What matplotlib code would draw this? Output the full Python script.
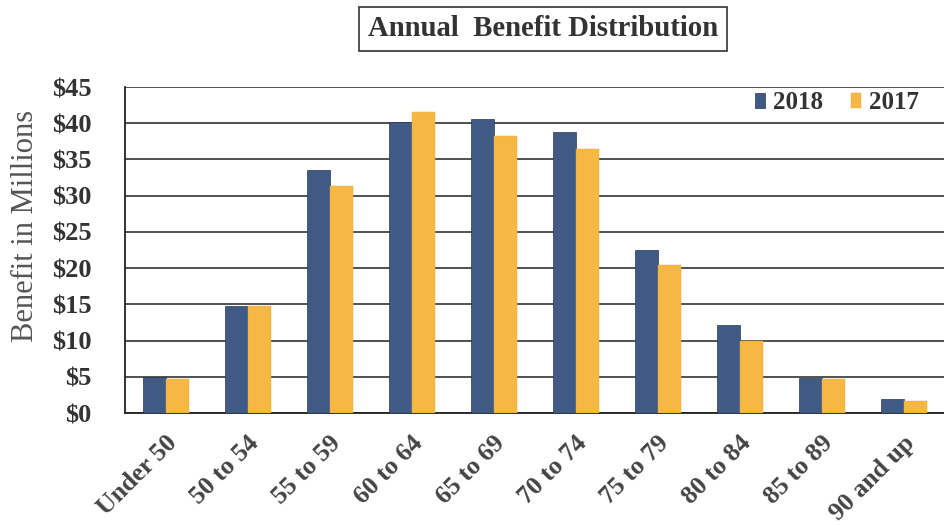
import matplotlib
matplotlib.use("Agg")
import matplotlib.pyplot as plt
import matplotlib.transforms as mtransforms
import numpy as np

categories = ["Under 50", "50 to 54", "55 to 59", "60 to 64", "65 to 69",
              "70 to 74", "75 to 79", "80 to 84", "85 to 89", "90 and up"]
values_2018 = [5.0, 14.8, 33.6, 40.2, 40.6, 38.8, 22.5, 12.2, 4.8, 2.0]
values_2017 = [4.7, 14.8, 31.3, 41.5, 38.3, 36.5, 20.4, 10.0, 4.7, 1.6]
yticks = [0, 5, 10, 15, 20, 25, 30, 35, 40, 45]
ytick_labels = ["$0", "$5", "$10", "$15", "$20", "$25", "$30", "$35", "$40", "$45"]

plt.rcParams['font.family'] = ['Liberation Serif', 'DejaVu Serif']

fig = plt.figure(figsize=(9.45, 5.25), dpi=100)
ax = fig.add_axes([125/945, 1 - 413/525, 820/945, 326/525])

x = np.arange(len(categories))
w = 0.285
c18 = "#405A86"
c17 = "#F6B845"
ax.bar(x - w/2, values_2018, width=w, color=c18, edgecolor="#2a3550", linewidth=0.5, label="2018", zorder=3)
ax.bar(x + w/2, values_2017, width=w, color=c17, edgecolor="#e8a83a", linewidth=0.3, label="2017", zorder=3)

ax.set_xlim(-0.5, len(categories) - 0.5)
ax.set_ylim(0, 45)
ax.set_yticks(yticks)
ax.set_yticklabels(ytick_labels, fontsize=19, fontweight='bold', color="#333333")
ax.set_xticks(x)
ax.set_xticklabels(categories, rotation=45, ha='right', rotation_mode='anchor',
                   fontsize=18.5, fontweight='bold', color="#444444")
ax.tick_params(axis='y', length=0, pad=24)
ax.tick_params(axis='x', length=0, pad=13)
offset = mtransforms.ScaledTranslation(-1/100, 0, fig.dpi_scale_trans)
for lbl in ax.get_xticklabels():
    lbl.set_transform(lbl.get_transform() + offset)

ax.grid(axis='y', color="#222222", linewidth=1.1, zorder=0)
ax.set_axisbelow(True)
for s in ['top', 'right']:
    ax.spines[s].set_visible(False)
ax.spines['left'].set_color("#222222")
ax.spines['left'].set_linewidth(1.3)
ax.spines['bottom'].set_color("#222222")
ax.spines['bottom'].set_linewidth(1.3)

ax.set_ylabel("Benefit in Millions", fontsize=22, color="#555555")
ax.yaxis.set_label_coords(-85/820, (413 - 226) / 326)

leg = ax.legend(loc='upper right', bbox_to_anchor=(0.983, 1.025), ncol=2, frameon=False,
                prop={'family': 'Liberation Serif', 'weight': 'bold', 'size': 18},
                handlelength=0.42, handleheight=0.6, handletextpad=0.3, columnspacing=1.1,
                borderaxespad=0.1)
for t in leg.get_texts():
    t.set_color("#333333")

fig.text(543/945, 1 - 29/525, "Annual  Benefit Distribution", ha='center', va='center',
         fontsize=20.7, fontweight='bold', color="#333333",
         bbox=dict(boxstyle='square,pad=0.3', facecolor='white', edgecolor='#333333', linewidth=1.2))

fig.savefig("out.png", dpi=100)
